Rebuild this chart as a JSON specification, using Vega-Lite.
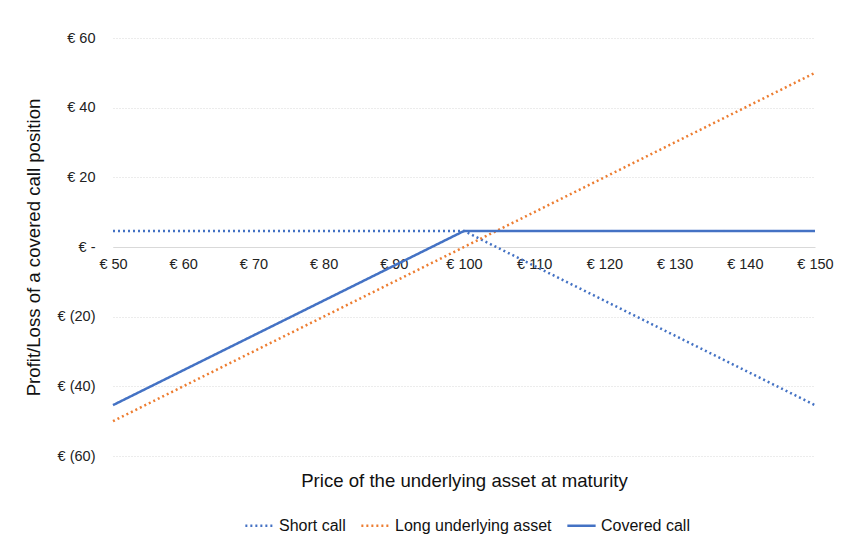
{
  "$schema": "https://vega.github.io/schema/vega-lite/v6.json",
  "width": 702,
  "height": 418,
  "autosize": {"type": "none"},
  "padding": {"left": 113, "top": 38, "right": 32, "bottom": 94},
  "config": {
    "font": "Liberation Sans",
    "view": {"stroke": null},
    "axis": {"labelFont": "Liberation Sans", "titleFont": "Liberation Sans", "labelColor": "#222", "titleColor": "#111", "titleFontWeight": "normal"}
  },
  "data": {
    "values": [
      {"price": 50, "pl": 4.6, "series": "Short call"},
      {"price": 100, "pl": 4.6, "series": "Short call"},
      {"price": 150, "pl": -45.4, "series": "Short call"},
      {"price": 50, "pl": -50, "series": "Long underlying asset"},
      {"price": 100, "pl": 0, "series": "Long underlying asset"},
      {"price": 150, "pl": 50, "series": "Long underlying asset"},
      {"price": 50, "pl": -45.4, "series": "Covered call"},
      {"price": 100, "pl": 4.6, "series": "Covered call"},
      {"price": 150, "pl": 4.6, "series": "Covered call"}
    ]
  },
  "mark": {"type": "line", "strokeWidth": 2.5},
  "encoding": {
    "x": {
      "field": "price", "type": "quantitative",
      "scale": {"domain": [50, 150], "nice": false},
      "axis": {
        "values": [50, 60, 70, 80, 90, 100, 110, 120, 130, 140, 150],
        "labelExpr": "'€ ' + datum.value",
        "offset": -209,
        "ticks": false,
        "grid": false,
        "domain": true,
        "domainColor": "#d9d9d9",
        "domainWidth": 1,
        "labelFontSize": 14.5,
        "labelPadding": 10,
        "labelFlush": false,
        "title": "Price of the underlying asset at maturity",
        "titleFontSize": 18.6,
        "titlePadding": 201
      }
    },
    "y": {
      "field": "pl", "type": "quantitative",
      "scale": {"domain": [-60, 60], "nice": false},
      "axis": {
        "values": [-60, -40, -20, 0, 20, 40, 60],
        "labelExpr": "datum.value == 0 ? '€ -' : (datum.value < 0 ? '€ (' + abs(datum.value) + ')' : '€ ' + datum.value)",
        "ticks": false,
        "domain": false,
        "grid": true,
        "gridColor": "#d9d9d9",
        "gridDash": [1, 2],
        "labelFontSize": 14.5,
        "labelPadding": 18,
        "title": "Profit/Loss of a covered call position",
        "titleFontSize": 18.6,
        "titlePadding": 14
      }
    },
    "color": {
      "field": "series", "type": "nominal",
      "scale": {"domain": ["Short call", "Long underlying asset", "Covered call"], "range": ["#4472C4", "#ED7D31", "#4472C4"]},
      "legend": {
        "orient": "none", "legendX": 131, "legendY": 472, "direction": "horizontal", "title": null,
        "symbolType": "stroke", "symbolSize": 800, "symbolStrokeWidth": 2.5,
        "labelFontSize": 16, "labelColor": "#111", "columnPadding": 10, "labelOffset": 4
      }
    },
    "strokeDash": {
      "field": "series", "type": "nominal",
      "scale": {"domain": ["Short call", "Long underlying asset", "Covered call"], "range": [[2, 3], [2, 3], [1, 0]]},
      "legend": null
    },
    "strokeWidth": {
      "field": "series", "type": "nominal",
      "scale": {"domain": ["Short call", "Long underlying asset", "Covered call"], "range": [2.5, 2.5, 3]},
      "legend": null
    },
    "order": {"field": "price"}
  }
}
